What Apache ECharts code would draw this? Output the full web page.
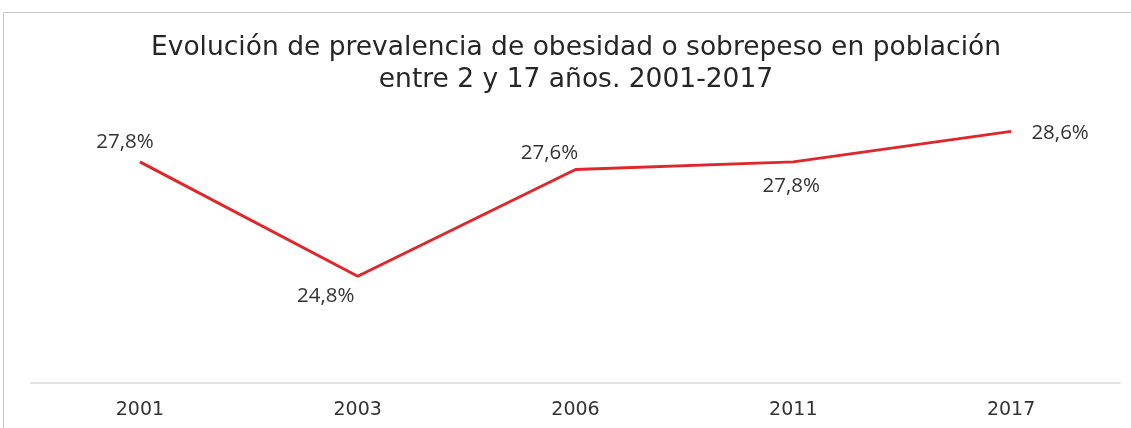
<!DOCTYPE html>
<html>
<head>
<meta charset="utf-8">
<script src="https://cdn.jsdelivr.net/npm/echarts@6/dist/echarts.min.js"></script>
<style>
  html, body { margin: 0; padding: 0; background: #ffffff; }
  #chart { width: 1131px; height: 428px; }
</style>
</head>
<body>
<div id="chart"></div>
<script>
// Prevalence of obesity or overweight, population aged 2-17
const years = ['2001', '2003', '2006', '2011', '2017'];
const prevalence = [27.8, 24.8, 27.6, 27.8, 28.6];
const titleLines = ['Evolución de prevalencia de obesidad o sobrepeso en población', 'entre 2 y 17 años. 2001-2017'];

// label placement for each point, relative to the point
const labelOffsets = [[-15, -20], [-32, 20], [-26, -16], [-2, 24], [49, 2]];

const fmt = v => v.toFixed(1).replace('.', ',') + '%';

const chart = echarts.init(document.getElementById('chart'), null, { renderer: 'canvas' });

chart.setOption({
  animation: false,
  backgroundColor: '#ffffff',
  graphic: [
    {
      type: 'polyline',
      silent: true,
      shape: { points: [[3.5, 428], [3.5, 12.5], [1131, 12.5]] },
      style: { stroke: '#c8c8c8', lineWidth: 1, fill: null }
    }
  ],
  title: {
    text: titleLines.join('\n'),
    left: 571,
    textAlign: 'center',
    top: 27,
    textStyle: {
      fontFamily: 'DejaVu Sans',
      fontSize: 26.5,
      fontWeight: 'normal',
      color: '#262626',
      lineHeight: 32
    }
  },
  grid: { left: 31, right: 11, top: 78, bottom: 45 },
  xAxis: {
    type: 'category',
    data: years,
    boundaryGap: true,
    axisLine: { lineStyle: { color: '#d9d9d9', width: 1.5 } },
    axisTick: { show: false },
    axisLabel: {
      margin: 18,
      fontFamily: 'DejaVu Sans',
      fontSize: 19,
      color: '#333333'
    }
  },
  yAxis: {
    type: 'value',
    min: 22,
    max: 30,
    show: false,
    splitLine: { show: false }
  },
  series: [
    {
      type: 'line',
      data: prevalence.map((v, i) => ({
        value: v,
        label: { offset: labelOffsets[i] }
      })),
      showSymbol: true,
      symbol: 'circle',
      symbolSize: 2,
      itemStyle: { color: 'rgba(0,0,0,0)' },
      lineStyle: { color: '#e0262b', width: 3 },
      label: {
        show: true,
        position: 'inside',
        formatter: p => fmt(p.value),
        fontFamily: 'Open Sans',
        fontSize: 20.5,
        color: '#333333'
      }
    }
  ]
});
</script>
</body>
</html>
